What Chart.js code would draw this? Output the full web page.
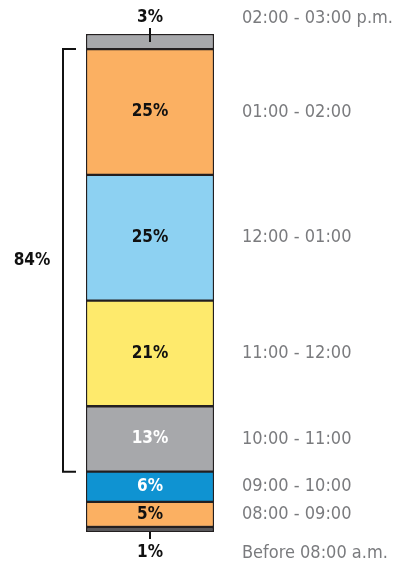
<!DOCTYPE html>
<html>
<head>
<meta charset="utf-8">
<script src="https://cdn.jsdelivr.net/npm/chart.js@4"></script>
<style>
  html, body { margin: 0; padding: 0; background: #fff; }
  #wrap { width: 396px; height: 566px; position: relative; }
</style>
</head>
<body>
<div id="wrap"><canvas id="canvas_horario"></canvas></div>
<script>
// time slots, bottom to top
const horarios = ['Before 08:00 a.m.', '08:00 - 09:00', '09:00 - 10:00', '10:00 - 11:00',
                  '11:00 - 12:00', '12:00 - 01:00', '01:00 - 02:00', '02:00 - 03:00 p.m.'];
const percentuais = [1, 5, 6, 13, 21, 25, 25, 3];
// bracket covers 10:00 through 02:00
const grupoInicio = 3;
const grupoFim = 6;
const grupoLabel = '84%';

const cores = ['#58595b', '#fbb062', '#0f93d2', '#a7a8ab', '#feea6c', '#8dd1f2', '#fbb062', '#a7a8ab'];
const corTexto = ['#111', '#111', '#fff', '#fff', '#111', '#111', '#111', '#111'];

const fonteValor = 'bold 17px "DejaVu Sans Condensed", "Liberation Sans Narrow", sans-serif';
const fonteHorario = '18px "Liberation Sans Narrow", "DejaVu Sans Condensed", sans-serif';

const rotulosPlugin = {
    id: 'rotulos',
    afterDatasetsDraw(chart) {
        const ctx = chart.ctx;
        const y = chart.scales.y;
        const n = percentuais.length;
        ctx.save();
        ctx.textBaseline = 'middle';

        for (let i = 0; i < n; i++) {
            const bar = chart.getDatasetMeta(i).data[0];
            const topo = Math.min(bar.y, bar.base);
            const base = Math.max(bar.y, bar.base);
            let yTexto = (topo + base) / 2;

            ctx.font = fonteValor;
            ctx.textAlign = 'center';
            if (i === 0) {
                // thin bottom slice: label below with a tick
                yTexto = base + 21;
                ctx.strokeStyle = '#111';
                ctx.lineWidth = 2;
                ctx.beginPath();
                ctx.moveTo(bar.x, base);
                ctx.lineTo(bar.x, base + 7);
                ctx.stroke();
                ctx.fillStyle = '#111';
            } else if (i === n - 1) {
                // thin top slice: label above with a tick
                yTexto = topo - 16;
                ctx.strokeStyle = '#111';
                ctx.lineWidth = 2;
                ctx.beginPath();
                ctx.moveTo(bar.x, topo - 6);
                ctx.lineTo(bar.x, topo + 8);
                ctx.stroke();
                ctx.fillStyle = '#111';
            } else {
                ctx.fillStyle = corTexto[i];
            }
            ctx.fillText(percentuais[i] + '%', bar.x, yTexto);

            ctx.font = fonteHorario;
            ctx.textAlign = 'left';
            ctx.fillStyle = '#7a7b7e';
            ctx.fillText(horarios[i], chart.chartArea.right + 28, yTexto);
        }

        // bracket on the left
        let acumulado = 0;
        for (let i = 0; i < grupoInicio; i++) acumulado += percentuais[i];
        let soma = 0;
        for (let i = grupoInicio; i <= grupoFim; i++) soma += percentuais[i];
        const yBaixo = y.getPixelForValue(acumulado);
        const yAlto = y.getPixelForValue(acumulado + soma);
        const xLinha = chart.chartArea.left - 23;
        const xPonta = chart.chartArea.left - 10;
        ctx.strokeStyle = '#111';
        ctx.lineWidth = 2;
        ctx.beginPath();
        ctx.moveTo(xPonta, yAlto);
        ctx.lineTo(xLinha, yAlto);
        ctx.lineTo(xLinha, yBaixo);
        ctx.lineTo(xPonta, yBaixo);
        ctx.stroke();

        ctx.font = fonteValor;
        ctx.textAlign = 'center';
        ctx.fillStyle = '#111';
        ctx.fillText(grupoLabel, 32, (yAlto + yBaixo) / 2);
        ctx.restore();
    }
};

const datasets = percentuais.map((v, i) => ({
    label: horarios[i],
    data: [v],
    backgroundColor: cores[i],
    borderColor: '#231f20',
    borderWidth: 1.5,
    borderSkipped: false,
    barPercentage: 1,
    categoryPercentage: 1,
}));

new Chart(document.getElementById('canvas_horario'), {
    type: 'bar',
    data: {
        labels: [''],
        datasets: datasets,
    },
    options: {
        responsive: true,
        maintainAspectRatio: false,
        animation: false,
        layout: {
            padding: { left: 86, right: 182, top: 34, bottom: 34 },
        },
        scales: {
            x: { stacked: true, display: false },
            y: { stacked: true, display: false, min: 0, max: 99 },
        },
        plugins: {
            legend: { display: false },
            tooltip: { enabled: false },
        },
    },
    plugins: [rotulosPlugin],
});
</script>
</body>
</html>
